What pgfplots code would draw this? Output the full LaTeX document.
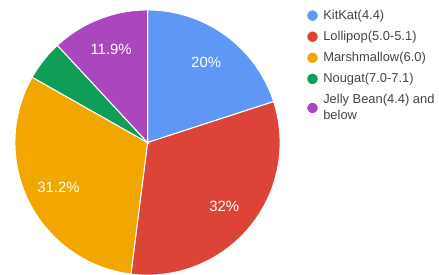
\documentclass[border=0pt]{standalone}
\usepackage{pgfplots}
\pgfplotsset{compat=1.18}
\usepackage{pgfplotstable}
\usepackage{fontspec}
\setmainfont{Liberation Sans}
\definecolor{kk}{HTML}{5E97F6}
\definecolor{lp}{HTML}{DB4437}
\definecolor{mm}{HTML}{F2A600}
\definecolor{ng}{HTML}{0F9D58}
\definecolor{jb}{HTML}{AB47BC}
\definecolor{legtext}{HTML}{444444}
\tikzset{pielabel/.style={text=white, font=\fontsize{15}{18}\selectfont, inner sep=0pt}}

\pgfplotstableread{
value color
20 kk
32 lp
31.2 mm
4.9 ng
11.9 jb
}\piedata

\begin{document}
\begin{tikzpicture}
\begin{axis}[
  width=439bp, height=275bp, scale only axis,
  xmin=0, xmax=439, ymin=0, ymax=275,
  hide axis,
  legend entries={KitKat(4.4),Lollipop(5.0-5.1),Marshmallow(6.0),Nougat(7.0-7.1),{Jelly Bean(4.4) and\\below}},
  legend cell align=left,
  legend image code/.code={\fill (0bp,0bp) circle[radius=5.8bp];},
  legend style={draw=none, fill=none, at={(307/439,266/275)}, anchor=north west,
    inner sep=0pt, row sep=8.3bp,
    font=\fontsize{13}{16}\selectfont\color{legtext},
    nodes={align=left, inner xsep=4.5bp, inner ysep=1bp}},
]
\xdef\cum{0}
\pgfplotsinvokeforeach{0,...,4}{
  \pgfplotstablegetelem{#1}{value}\of\piedata \let\v\pgfplotsretval
  \pgfplotstablegetelem{#1}{color}\of\piedata \let\c\pgfplotsretval
  \pgfmathsetmacro\a{90-3.6*(\cum+\v)}
  \pgfmathsetmacro\b{90-3.6*\cum}
  \pgfmathsetmacro\m{(\a+\b)/2}
  \pgfmathsetmacro\lx{148+100*cos(\m)}
  \pgfmathsetmacro\ly{132+100*sin(\m)}
  \edef\doit{\noexpand\addplot[fill=\c, draw=white, line width=1bp, domain=\a:\b, samples=90]
     ({148+133*cos(x)},{132+133*sin(x)}) -- (axis cs:148,132) -- cycle;}
  \doit
  \ifdim\v pt>6pt
    \edef\dolab{\noexpand\node[pielabel] at (axis cs:\lx,\ly) {\v\noexpand\%};}
    \dolab
  \fi
  \pgfmathsetmacro\newcum{\cum+\v}
  \xdef\cum{\newcum}
}
\end{axis}
\useasboundingbox (current axis.south west) rectangle (current axis.north east);
\end{tikzpicture}
\end{document}
